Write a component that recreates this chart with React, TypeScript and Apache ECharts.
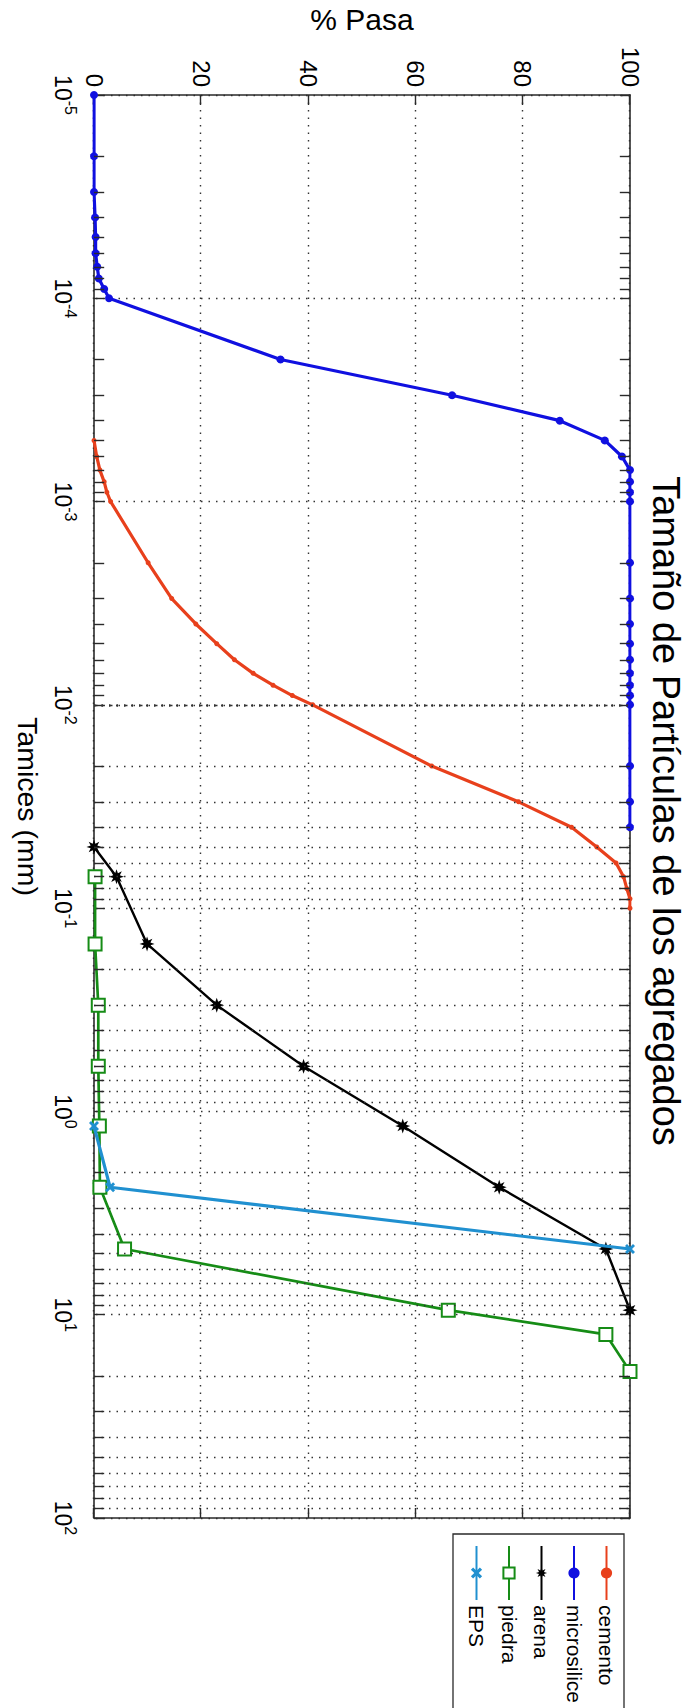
import React, { useEffect, useRef } from 'react';
import * as echarts from 'echarts';

// ---------------- data ----------------
const cementoSize = [5e-4, 6e-4, 7e-4, 8e-4, 9e-4, 1e-3, 2e-3, 3e-3, 4e-3, 5e-3, 6e-3, 7e-3, 8e-3, 9e-3, 1e-2, 2e-2, 3e-2, 4e-2, 5e-2, 6e-2, 7e-2, 8e-2, 9e-2, 1e-1];
const cementoPasa = [0, 0.5, 1.1, 1.9, 2.4, 3.1, 10.1, 14.5, 19.0, 22.9, 26.2, 29.7, 33.4, 37.0, 40.8, 63.0, 79.2, 89.1, 93.8, 97.4, 98.8, 99.4, 100, 100];

const microsiliceSize = [1e-5, 2e-5, 3e-5, 4e-5, 5e-5, 6e-5, 7e-5, 8e-5, 9e-5, 1e-4, 2e-4, 3e-4, 4e-4, 5e-4, 6e-4, 7e-4, 8e-4, 9e-4, 1e-3, 2e-3, 3e-3, 4e-3, 5e-3, 6e-3, 7e-3, 8e-3, 9e-3, 1e-2, 2e-2, 3e-2, 4e-2];
const microsilicePasa = [0, 0, 0, 0.2, 0.3, 0.3, 0.6, 0.9, 1.9, 2.8, 34.8, 66.8, 86.9, 95.3, 98.5, 100, 100, 100, 100, 100, 100, 100, 100, 100, 100, 100, 100, 100, 100, 100, 100];

const arenaSize = [0.05, 0.07, 0.15, 0.3, 0.6, 1.18, 2.36, 4.75, 9.5];
const arenaPasa = [0, 4.2, 9.9, 22.9, 39.1, 57.6, 75.6, 95.5, 100];

const piedraSize = [0.07, 0.15, 0.3, 0.6, 1.18, 2.36, 4.75, 9.5, 12.5, 19];
const piedraPasa = [0.2, 0.2, 0.8, 0.8, 1.0, 1.1, 5.7, 66.1, 95.5, 100];

const epsSize = [1.18, 2.36, 4.75];
const epsPasa = [0, 3.0, 100];

const seriesNames = ['cemento', 'microsilice', 'arena', 'piedra', 'EPS'];
const titleText = 'Tamaño de Partículas de los agregados';
const xName = 'Tamices (mm)';
const yName = '% Pasa';
const xMin = 1e-5;
const xMax = 1e2;
const yMin = 0;
const yMax = 100;
const yInterval = 20;

// ---------------- styling helpers ----------------
const FONT = '"Liberation Sans", Arial, Helvetica, sans-serif';
const AXIS = '#2a2a2a';
const RED = '#e8401c';
const BLUE = '#1010e0';
const BLACK = '#000000';
const GREEN = '#168c16';
const CYAN = '#2090d0';

function starPath(n: number, ro: number, ri: number) {
  let d = '';
  for (let i = 0; i < 2 * n; i++) {
    const r = i % 2 === 0 ? ro : ri;
    const a = (Math.PI * i) / n - Math.PI / 2;
    d += (i === 0 ? 'M' : 'L') + (10 + r * Math.cos(a)).toFixed(2) + ',' + (10 + r * Math.sin(a)).toFixed(2) + ' ';
  }
  return 'path://' + d + 'Z';
}
const STAR = starPath(8, 10, 4.8);
const XMARK = 'path://M0,2 L2,0 L5,3 L8,0 L10,2 L7,5 L10,8 L8,10 L5,7 L2,10 L0,8 L3,5 Z';

const zip = (a: number[], b: number[]) => a.map((v, i) => [v, b[i]]);

// minor log grid positions (2..9 x 10^n)
const minorValues: number[] = [];
for (let e = -5; e < 2; e++) {
  for (let k = 2; k <= 9; k++) minorValues.push(k * Math.pow(10, e));
}
const TICK = 1.9; // minor tick length in % units

const dotted = { type: [1.5, 6] as any, color: '#333', width: 1.4 };

const logLabel = {
  formatter: (v: number) => `{b|10}{s|${Math.round(Math.log10(v))}}`,
  margin: 16,
  rich: {
    b: { fontSize: 23, fontFamily: FONT, color: '#000', lineHeight: 30, verticalAlign: 'middle' },
    s: { fontSize: 16, fontFamily: FONT, color: '#000', lineHeight: 15, verticalAlign: 'top' },
  },
};

const option: any = {
  animation: false,
  backgroundColor: '#ffffff',
  textStyle: { fontFamily: FONT },
  title: {
    text: titleText,
    left: 806,
    top: 3,
    textAlign: 'center',
    textStyle: { fontSize: 38, fontWeight: 'normal', color: '#000', fontFamily: FONT },
  },
  legend: {
    data: seriesNames,
    orient: 'vertical',
    left: 1534,
    top: 69,
    padding: [7, 40, 13, 11],
    itemWidth: 54,
    itemHeight: 14,
    itemGap: 11.5,
    borderColor: AXIS,
    borderWidth: 1.3,
    backgroundColor: '#fff',
    textStyle: { fontSize: 21, lineHeight: 20, color: '#000', fontFamily: FONT },
  },
  grid: { left: 95, right: 190, top: 63, bottom: 94, containLabel: false, outerBoundsMode: 'none' },
  xAxis: [
    {
      type: 'log',
      logBase: 10,
      min: xMin,
      max: xMax,
      splitNumber: 7,
      position: 'bottom',
      name: xName,
      nameLocation: 'middle',
      nameGap: 52,
      nameTextStyle: { fontSize: 28.5, color: '#000', fontFamily: FONT },
      axisLine: { show: true, onZero: false, lineStyle: { color: AXIS, width: 1.6 } },
      axisTick: { show: true, inside: true, length: 10, lineStyle: { color: AXIS, width: 1.4 } },
      axisLabel: logLabel,
      splitLine: { show: true, lineStyle: dotted },
      minorTick: { show: false },
      minorSplitLine: { show: false },
    },
    {
      type: 'log',
      logBase: 10,
      min: xMin,
      max: xMax,
      splitNumber: 7,
      position: 'top',
      axisLine: { show: true, onZero: false, lineStyle: { color: AXIS, width: 1.6 } },
      axisTick: { show: true, inside: true, length: 10, lineStyle: { color: AXIS, width: 1.4 } },
      axisLabel: { show: false },
      splitLine: { show: false },
    },
  ],
  yAxis: [
    {
      type: 'value',
      min: yMin,
      max: yMax,
      interval: yInterval,
      position: 'left',
      name: yName,
      nameLocation: 'middle',
      nameGap: 61,
      nameRotate: 90,
      nameTextStyle: { fontSize: 30, color: '#000', fontFamily: FONT },
      axisLine: { show: true, onZero: false, lineStyle: { color: AXIS, width: 1.6 } },
      axisTick: { show: true, inside: true, length: 10, lineStyle: { color: AXIS, width: 1.4 } },
      axisLabel: { fontSize: 24, color: '#000', margin: 8, fontFamily: FONT },
      splitLine: { show: true, lineStyle: dotted },
    },
    {
      type: 'value',
      min: yMin,
      max: yMax,
      interval: yInterval,
      position: 'right',
      axisLine: { show: true, onZero: false, lineStyle: { color: AXIS, width: 1.6 } },
      axisTick: { show: true, inside: true, length: 10, lineStyle: { color: AXIS, width: 1.4 } },
      axisLabel: { show: false },
      splitLine: { show: false },
    },
  ],
  series: [
    {
      name: '_grid',
      type: 'line',
      data: [],
      silent: true,
      z: 1,
      markLine: {
        silent: true,
        animation: false,
        symbol: ['none', 'none'],
        label: { show: false },
        emphasis: { disabled: true },
        lineStyle: dotted,
        data: minorValues.map((v) => ({ xAxis: v })),
      },
    },
    {
      name: '_ticks',
      type: 'line',
      data: [],
      silent: true,
      z: 1,
      markLine: {
        silent: true,
        animation: false,
        symbol: ['none', 'none'],
        label: { show: false },
        emphasis: { disabled: true },
        lineStyle: { type: 'solid', color: AXIS, width: 1.4 },
        data: minorValues.flatMap((v) => [
          [{ coord: [v, yMin] }, { coord: [v, yMin + TICK] }],
          [{ coord: [v, yMax - TICK] }, { coord: [v, yMax] }],
        ]),
      },
    },
    {
      name: 'cemento',
      type: 'line',
      data: zip(cementoSize, cementoPasa),
      symbol: 'circle',
      symbolSize: 5,
      lineStyle: { color: RED, width: 3.2 },
      itemStyle: { color: RED },
      z: 3,
    },
    {
      name: 'microsilice',
      type: 'line',
      data: zip(microsiliceSize, microsilicePasa),
      symbol: 'circle',
      symbolSize: 8,
      lineStyle: { color: BLUE, width: 3.2 },
      itemStyle: { color: BLUE },
      z: 3,
    },
    {
      name: 'arena',
      type: 'line',
      data: zip(arenaSize, arenaPasa),
      symbol: STAR,
      symbolSize: 15,
      lineStyle: { color: BLACK, width: 2.4 },
      itemStyle: { color: BLACK },
      z: 4,
    },
    {
      name: 'piedra',
      type: 'line',
      data: zip(piedraSize, piedraPasa),
      symbol: 'emptyRect',
      symbolSize: 13,
      lineStyle: { color: GREEN, width: 2.7 },
      itemStyle: { color: GREEN, borderColor: GREEN, borderWidth: 2.4 },
      z: 4,
    },
    {
      name: 'EPS',
      type: 'line',
      data: zip(epsSize, epsPasa),
      symbol: XMARK,
      symbolSize: 10,
      lineStyle: { color: CYAN, width: 3.2 },
      itemStyle: { color: CYAN },
      z: 5,
    },
  ],
};

export default function App() {
  const ref = useRef<HTMLDivElement>(null);
  useEffect(() => {
    if (!ref.current) return;
    const chart = echarts.init(ref.current, undefined, { renderer: 'svg', width: 1708, height: 693 });
    chart.setOption(option);
    return () => chart.dispose();
  }, []);
  return (
    <div style={{ position: 'absolute', left: 0, top: 0, width: 693, height: 1708, overflow: 'hidden', background: '#fff' }}>
      <div
        style={{
          position: 'absolute',
          left: 0,
          top: 0,
          width: 1708,
          height: 693,
          transformOrigin: '0 0',
          transform: 'translate(693px, 0px) rotate(90deg)',
        }}
      >
        <div ref={ref} style={{ width: 1708, height: 693 }} />
      </div>
    </div>
  );
}
